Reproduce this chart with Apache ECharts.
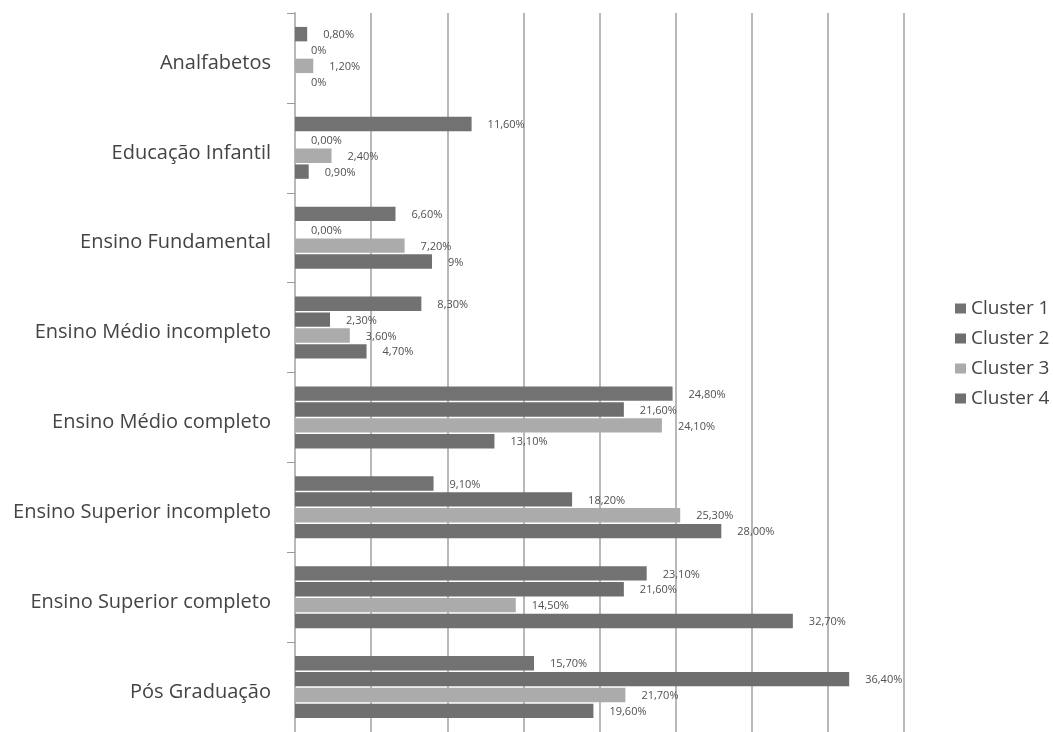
<!DOCTYPE html>
<html>
<head>
<meta charset="utf-8">
<title>Escolaridade por cluster</title>
<script src="https://cdn.jsdelivr.net/npm/echarts@6/dist/echarts.min.js"></script>
<style>
  html, body { margin: 0; padding: 0; background: #fff; }
  #chart { width: 1053px; height: 732px; }
</style>
</head>
<body>
<div id="chart"></div>
<script>
// categorias (de cima para baixo)
var categories = ['Analfabetos', 'Educação Infantil', 'Ensino Fundamental', 'Ensino Médio incompleto',
  'Ensino Médio completo', 'Ensino Superior incompleto', 'Ensino Superior completo', 'Pós Graduação'];

var clusterNames = ['Cluster 1', 'Cluster 2', 'Cluster 3', 'Cluster 4'];

// valores (%)
var cluster1 = [0.8, 11.6, 6.6, 8.3, 24.8, 9.1, 23.1, 15.7];
var cluster2 = [0, 0, 0, 2.3, 21.6, 18.2, 21.6, 36.4];
var cluster3 = [1.2, 2.4, 7.2, 3.6, 24.1, 25.3, 14.5, 21.7];
var cluster4 = [0, 0.9, 9, 4.7, 13.1, 28.0, 32.7, 19.6];

// rótulos como aparecem no gráfico
var labels1 = ['0,80%', '11,60%', '6,60%', '8,30%', '24,80%', '9,10%', '23,10%', '15,70%'];
var labels2 = ['0%', '0,00%', '0,00%', '2,30%', '21,60%', '18,20%', '21,60%', '36,40%'];
var labels3 = ['1,20%', '2,40%', '7,20%', '3,60%', '24,10%', '25,30%', '14,50%', '21,70%'];
var labels4 = ['0%', '0,90%', '9%', '4,70%', '13,10%', '28,00%', '32,70%', '19,60%'];

var colors = ['#727272', '#6e6e6e', '#ababab', '#707070'];

var myChart = echarts.init(document.getElementById('chart'));

function makeSeries(name, values, texts) {
  return {
    name: name,
    type: 'bar',
    barGap: '10%',
    barCategoryGap: '31%',
    data: values,
    label: {
      show: true,
      position: 'right',
      distance: 16,
      offset: [0, 1],
      color: '#505050',
      fontFamily: 'Open Sans',
      fontSize: 11,
      formatter: function (p) {
        return texts[p.dataIndex];
      }
    }
  };
}

myChart.setOption({
  color: colors,
  animation: false,
  grid: {
    left: 295,
    right: 149,
    top: 13,
    bottom: 0
  },
  legend: {
    orient: 'vertical',
    left: 950,
    top: 294,
    icon: 'rect',
    itemWidth: 11,
    itemHeight: 10,
    itemGap: 11,
    data: clusterNames,
    textStyle: {
      color: '#444',
      fontFamily: 'Open Sans',
      fontSize: 19,
      lineHeight: 19
    }
  },
  xAxis: {
    type: 'value',
    min: 0,
    max: 40,
    interval: 5,
    axisLabel: { show: false },
    axisLine: { show: false },
    axisTick: { show: false },
    splitLine: {
      show: true,
      lineStyle: { color: '#b8b8b8', width: 2 }
    }
  },
  yAxis: {
    type: 'category',
    inverse: true,
    data: categories,
    axisLine: {
      show: true,
      lineStyle: { color: '#b8b8b8', width: 2 }
    },
    axisTick: {
      show: true,
      length: 8,
      lineStyle: { color: '#9a9a9a', width: 1 }
    },
    axisLabel: {
      margin: 24,
      formatter: function (v) {
        return '{t|' + v + '}';
      },
      rich: {
        t: {
          color: '#444',
          fontFamily: 'Open Sans',
          fontSize: 20,
          padding: [10, 0, 0, 0]
        }
      }
    }
  },
  series: [
    makeSeries(clusterNames[0], cluster1, labels1),
    makeSeries(clusterNames[1], cluster2, labels2),
    makeSeries(clusterNames[2], cluster3, labels3),
    makeSeries(clusterNames[3], cluster4, labels4)
  ]
});
</script>
</body>
</html>
